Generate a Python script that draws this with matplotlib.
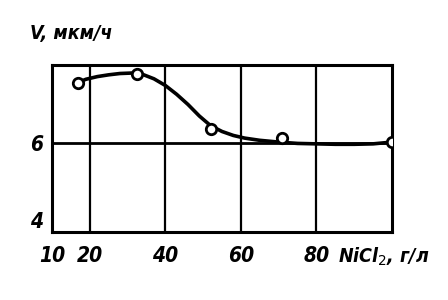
import matplotlib.pyplot as plt

# Measured points: NiCl2 concentration (g/l) vs deposition rate (um/h)
conc = [17, 32.5, 52, 71, 100]
rate = [7.36, 7.56, 6.33, 6.12, 6.04]

# Smoothed curve
curve_x = [17, 19, 22, 25, 28, 31, 34, 37, 40, 43, 46, 49, 52, 55, 58, 61,
           65, 70, 75, 80, 85, 90, 95, 100]
curve_y = [7.38, 7.45, 7.51, 7.55, 7.58, 7.59, 7.56, 7.46, 7.31, 7.11, 6.88, 6.62,
           6.40, 6.27, 6.18, 6.12, 6.07, 6.03, 6.00, 5.99, 5.98, 5.98, 5.99, 6.03]

x_ticks = [10, 20, 40, 60, 80]
y_ticks = [4, 6]

FONT = dict(family="DejaVu Sans", weight="bold", style="italic", stretch="condensed")

fig = plt.figure(figsize=(4.48, 3.0), dpi=100)
ax = fig.add_axes([0.116, 0.227, 0.759, 0.556])

ax.plot(curve_x, curve_y, color="black", lw=2.6, solid_joinstyle="round",
        solid_capstyle="round", zorder=3)
ax.plot(conc, rate, "o", ms=7.5, mfc="white", mec="black", mew=2.0, zorder=4)

ax.set_xlim(10, 100)
ax.set_ylim(4, 7.77)
for xv in [20, 40, 60, 80]:
    ax.axvline(xv, color="black", lw=1.6, zorder=1)
ax.axhline(6, color="black", lw=2.0, zorder=1)
for s in ax.spines.values():
    s.set_linewidth(2.2)

ax.set_xticks(x_ticks)
ax.set_xticklabels([str(v) for v in x_ticks], fontsize=15, **FONT)
ax.set_yticks(y_ticks)
ax.set_yticklabels([str(v) for v in y_ticks], fontsize=15, **FONT)
ax.get_yticklabels()[0].set_va("bottom")
ax.tick_params(length=0)
ax.tick_params(axis="x", pad=10)
ax.tick_params(axis="y", pad=6)

fig.text(0.067, 0.89, "V, мкм/ч", fontsize=14, ha="left", va="center", **FONT)
fig.text(0.755, 0.145, "NiCl$_2$, г/л", fontsize=14, ha="left", va="center", **FONT)

fig.savefig("out.png", dpi=100, facecolor="white")
